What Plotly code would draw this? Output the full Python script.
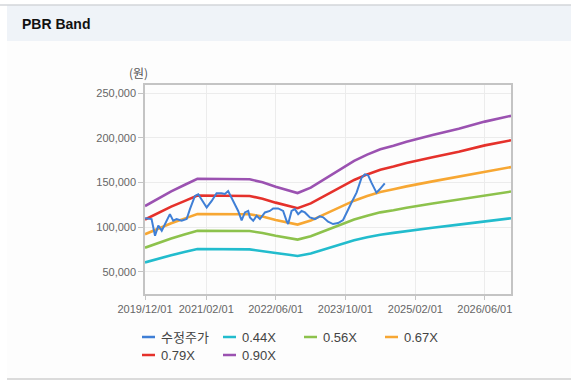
import plotly.graph_objects as go

W, H = 571, 388
L, R, T, B = 145, 60, 85, 94
PW, PH = W - L - R, H - T - B

# ---- data ----
band_dates = ["2019-12-01", "2020-03-01", "2020-06-01", "2020-09-01", "2020-12-01",
              "2021-12-01", "2022-03-01", "2022-06-01", "2022-09-01", "2022-11-01",
              "2023-02-01", "2023-05-01", "2023-09-01", "2023-12-01", "2024-03-01",
              "2024-06-01", "2024-09-01", "2024-12-01", "2025-06-01", "2025-12-01",
              "2026-06-01", "2026-12-01"]
band_044 = [60400, 64500, 68400, 71900, 75300, 75000, 73300, 70900, 68900, 67500,
            70400, 74800, 80700, 85100, 88500, 91400, 93400, 95600, 99200, 102700,
            106600, 109800]
band_056 = [76800, 82100, 87100, 91500, 95800, 95500, 93300, 90200, 87700, 85900,
            89600, 95200, 102700, 108300, 112600, 116400, 118800, 121600, 126300, 130700,
            135600, 139700]
band_067 = [91900, 98300, 104200, 109400, 114600, 114300, 111700, 107900, 105000, 102700,
            107200, 113900, 122800, 129500, 134700, 139200, 142200, 145500, 151100, 156300,
            162300, 167100]
band_079 = [108400, 115900, 122900, 129000, 135200, 134700, 131700, 127300, 123800, 121100,
            126400, 134300, 144800, 152700, 158900, 164100, 167700, 171600, 178200, 184300,
            191400, 197100]
band_090 = [123500, 132000, 140000, 147000, 154000, 153500, 150000, 145000, 141000, 138000,
            144000, 153000, 165000, 174000, 181000, 187000, 191000, 195500, 203000, 210000,
            218000, 224500]

price_dates = ["2019-12-01", "2020-01-16", "2020-02-09", "2020-03-03", "2020-03-27",
               "2020-04-30", "2020-05-23", "2020-06-15", "2020-07-09", "2020-08-13",
               "2020-09-17", "2020-10-10", "2020-11-14", "2020-12-07", "2021-01-11",
               "2021-02-04", "2021-03-11", "2021-04-14", "2021-05-19", "2021-06-11",
               "2021-07-04", "2021-08-08", "2021-09-12", "2021-10-06", "2021-10-29",
               "2021-11-21", "2021-12-03", "2021-12-26", "2022-01-19", "2022-02-11",
               "2022-03-18", "2022-04-21", "2022-05-14", "2022-06-18", "2022-07-23",
               "2022-08-16", "2022-08-27", "2022-09-20", "2022-10-13", "2022-11-05",
               "2022-11-29", "2022-12-22", "2023-01-26", "2023-03-02", "2023-04-05",
               "2023-04-29", "2023-06-02", "2023-07-07", "2023-08-11", "2023-09-15",
               "2023-10-09", "2023-11-13", "2023-12-18", "2024-01-22", "2024-02-14",
               "2024-03-08", "2024-03-31", "2024-05-05", "2024-05-28", "2024-07-02"]
price = [109700, 108900, 90300, 101500, 95900, 107000, 114400, 107000, 108900, 107000,
         109000, 120000, 134800, 136700, 127400, 121900, 129200, 137800, 137800, 137000,
         140300, 129200, 118000, 107500, 116300, 118000, 110800, 107000, 112600, 108900,
         116300, 118000, 120800, 120800, 118000, 107000, 103300, 118000, 120000, 114400,
         118000, 116300, 110800, 108900, 111900, 110800, 105900, 103300, 104400, 107800,
         116300, 127400, 138500, 155200, 158900, 157800, 149700, 138500, 142200, 148900]

series_names = ["수정주가", "0.44X", "0.56X", "0.67X", "0.79X", "0.90X"]
series_colors = ["#3f7fd6", "#22bccd", "#8dc24c", "#f7a733", "#e5312b", "#9b52b1"]

x_tickvals = ["2019-12-01", "2021-02-01", "2022-06-01", "2023-10-01", "2025-02-01", "2026-06-01"]
x_ticktext = ["2019/12/01", "2021/02/01", "2022/06/01", "2023/10/01", "2025/02/01", "2026/06/01"]
y_tickvals = [50000, 100000, 150000, 200000, 250000]
y_ticktext = ["50,000", "100,000", "150,000", "200,000", "250,000"]

# ---- figure ----
fig = go.Figure()
bands = [band_044, band_056, band_067, band_079, band_090]
for name, col, vals in zip(series_names[1:], series_colors[1:], bands):
    fig.add_trace(go.Scatter(x=band_dates, y=vals, mode="lines", name=name,
                             line=dict(color=col, width=2.6), showlegend=False,
                             hoverinfo="skip"))
fig.add_trace(go.Scatter(x=price_dates, y=price, mode="lines", name=series_names[0],
                         line=dict(color=series_colors[0], width=2.0), showlegend=False))


def px(x):
    return (x - L) / PW


def py(y):
    return (H - B - y) / PH


shapes = [
    # header band
    dict(type="rect", xref="paper", yref="paper", x0=px(7), x1=px(W), y0=py(41), y1=py(5),
         fillcolor="#eff3f8", line=dict(width=0), layer="below"),
    dict(type="line", xref="paper", yref="paper", x0=px(0), x1=px(W), y0=py(5), y1=py(5),
         line=dict(color="#d3d6da", width=1.5)),
    # body background
    dict(type="rect", xref="paper", yref="paper", x0=px(7), x1=px(W), y0=py(378), y1=py(41),
         fillcolor="#fdfdfd", line=dict(width=0), layer="below"),
    # bottom line
    dict(type="line", xref="paper", yref="paper", x0=px(7), x1=px(W), y0=py(379), y1=py(379),
         line=dict(color="#cfcfcf", width=1.5)),
]

annotations = [
    dict(text="<b>PBR Band</b>", xref="paper", yref="paper", x=px(20), y=py(24),
         xanchor="left", yanchor="middle", showarrow=False,
         font=dict(family="Liberation Sans, Arial", size=14, color="#111")),
    dict(text="(원)", xref="paper", yref="paper", x=px(138), y=py(73),
         xanchor="center", yanchor="middle", showarrow=False,
         font=dict(family="Noto Sans CJK KR", size=12, color="#555")),
]

# manual legend
leg_pos = [(142, 337), (223, 337), (304, 337), (385, 337), (142, 355), (223, 355)]
for (lx, ly), name, col in zip(leg_pos, series_names, series_colors):
    shapes.append(dict(type="line", xref="paper", yref="paper", x0=px(lx), x1=px(lx + 13),
                       y0=py(ly), y1=py(ly), line=dict(color=col, width=2.5)))
    annotations.append(dict(text=name, xref="paper", yref="paper", x=px(lx + 17), y=py(ly),
                            xanchor="left", yanchor="middle", showarrow=False,
                            font=dict(family="Liberation Sans, Noto Sans CJK KR", size=13,
                                      color="#444")))

fig.update_layout(
    width=W, height=H,
    margin=dict(l=L, r=R, t=T, b=B),
    paper_bgcolor="#ffffff", plot_bgcolor="#ffffff",
    shapes=shapes, annotations=annotations,
    showlegend=False,
    xaxis=dict(type="date", range=["2019-12-01", "2026-12-01"],
               tickvals=x_tickvals, ticktext=x_ticktext,
               showgrid=True, gridcolor="#ececec", gridwidth=1,
               showline=True, linecolor="#c4c4c4", linewidth=1.5, mirror=True,
               ticks="outside", ticklen=4, tickcolor="#c4c4c4",
               tickfont=dict(family="Liberation Sans, Arial", size=11, color="#666"),
               zeroline=False, fixedrange=True),
    yaxis=dict(range=[25000, 259000],
               tickvals=y_tickvals, ticktext=y_ticktext,
               showgrid=True, gridcolor="#ececec", gridwidth=1,
               showline=True, linecolor="#c4c4c4", linewidth=1.5, mirror=True,
               ticks="outside", ticklen=5, tickcolor="#c4c4c4",
               tickfont=dict(family="Liberation Sans, Arial", size=11, color="#666"),
               zeroline=False, fixedrange=True),
)

fig.write_html("out.html", config={"displayModeBar": False},
               post_script="document.body.style.margin='0';document.body.style.overflow='hidden';")
